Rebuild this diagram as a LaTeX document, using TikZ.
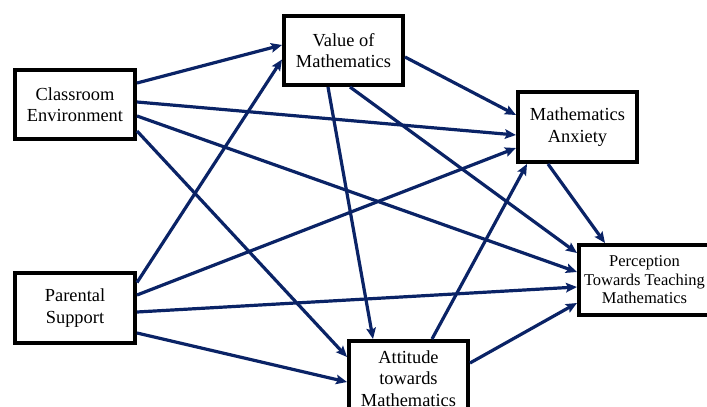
\documentclass[tikz,border=0pt]{standalone}
\usepackage{fontspec}
\setmainfont{Liberation Serif}
\usetikzlibrary{arrows.meta}
\definecolor{pathblue}{HTML}{0A2366}
\tikzset{
  x=1pt, y=-1pt,
  varbox/.style={draw=black, line width=4pt, fill=white, inner sep=0pt,
    align=center, font=\fontsize{18.4}{21.5}\selectfont},
  path/.style={draw=pathblue, line width=3.2pt,
    -{Stealth[length=11pt,width=9.5pt,inset=2pt]}},
}
\begin{document}
\begin{tikzpicture}
\clip (0,0) rectangle (707,407);
\fill[white] (0,0) rectangle (707,407);

% variables
\node[varbox, minimum width=120pt, minimum height=69pt] (ce) at (75,104.5) {Classroom\\Environment};
\node[varbox, minimum width=119pt, minimum height=69pt] (vm) at (343.5,50.5) {Value of\\Mathematics};
\node[varbox, minimum width=119pt, minimum height=70pt] (ma) at (577.5,127) {Mathematics\\Anxiety};
\node[varbox, minimum width=120pt, minimum height=70pt] (ps) at (75,308) {Parental\\Support};
\node[varbox, minimum width=119pt, minimum height=75pt] (at) at (408.5,378.5) {Attitude\\towards\\Mathematics};
\node[varbox, minimum width=131pt, minimum height=70pt,
  font=\fontsize{16.5}{18.6}\selectfont] (pt) at (644.5,280) {Perception\\Towards Teaching\\Mathematics};

% paths from Classroom Environment
\draw[path] ([shift={(0,-21.5)}]ce.east) -- ([shift={(0,-5.5)}]vm.west);
\draw[path] ([shift={(0,-2.5)}]ce.east) -- ([shift={(0,8)}]ma.west);
\draw[path] ([shift={(0,11.5)}]ce.east) -- ([shift={(0,-8)}]pt.west);
\draw[path] ([shift={(0,26.5)}]ce.east) -- ([shift={(0,-21.5)}]at.west);

% paths from Parental Support
\draw[path] ([shift={(0,-25.5)}]ps.east) -- ([shift={(0,9)}]vm.west);
\draw[path] ([shift={(0,-13)}]ps.east) -- ([shift={(0,21)}]ma.west);
\draw[path] ([shift={(0,4)}]ps.east) -- ([shift={(0,7)}]pt.west);
\draw[path] ([shift={(0,25)}]ps.east) -- ([shift={(0,3.5)}]at.west);

% paths from Value of Mathematics
\draw[path] ([shift={(0,6.5)}]vm.east) -- ([shift={(0,-12)}]ma.west);
\draw[path] ([shift={(6.5,0)}]vm.south) -- ([shift={(0,-27)}]pt.west);
\draw[path] ([shift={(-15.5,0)}]vm.south) -- ([shift={(-35.5,0)}]at.north);

% paths from Mathematics Anxiety and Attitude
\draw[path] ([shift={(-29.5,0)}]ma.south) -- ([shift={(-39.5,0)}]pt.north);
\draw[path] ([shift={(23.5,0)}]at.north) -- ([shift={(-50.5,0)}]ma.south);
\draw[path] ([shift={(0,-15.5)}]at.east) -- ([shift={(0,23)}]pt.west);
\end{tikzpicture}
\end{document}
